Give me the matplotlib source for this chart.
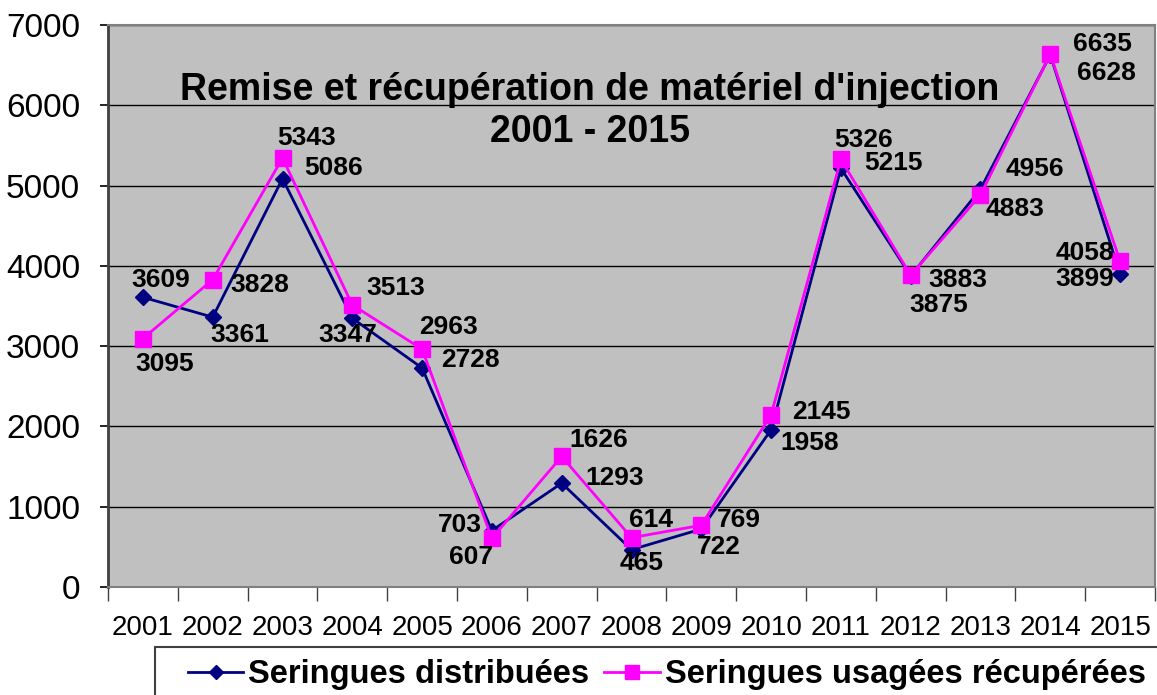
import matplotlib
matplotlib.use('Agg')
import matplotlib.pyplot as plt
import matplotlib.patches as mpatches
from matplotlib.ticker import FixedLocator

plt.rcParams['font.family'] = ['Liberation Sans', 'DejaVu Sans']

# données
annees = ['2001', '2002', '2003', '2004', '2005', '2006', '2007', '2008',
          '2009', '2010', '2011', '2012', '2013', '2014', '2015']
distribuees = [3609, 3361, 5086, 3347, 2728, 703, 1293, 465, 722, 1958,
               5215, 3875, 4956, 6628, 3899]
recuperees = [3095, 3828, 5343, 3513, 2963, 607, 1626, 614, 769, 2145,
              5326, 3883, 4883, 6635, 4058]

# décalages des étiquettes (pixels, centre du texte)
off_dist = [(18, 17), (27, -18), (51, 11), (-5, -17), (48, 8), (-32, 6),
            (53, 5), (10, -13), (18, -18), (39, -13), (53, 5), (28, -29),
            (54, 20), (56, -18), (-35, -5)]
off_rec = [(22, -25), (47, -5), (24, 20), (43, 17), (26, 22), (-21, -19),
           (37, 16), (20, 18), (38, 5), (50, 3), (23, 19), (47, -5),
           (35, -14), (52, 10), (-35, 8)]

fig = plt.figure(figsize=(11.57, 6.95), dpi=100)
ax = fig.add_axes([108 / 1157, 1 - 587 / 695, 1047 / 1157, 562 / 695])
ax.set_facecolor('#C0C0C0')

x = list(range(len(annees)))
l1, = ax.plot(x, distribuees, color='#000080', lw=2, marker='D', ms=8,
              zorder=3, label='Seringues distribuées')
l2, = ax.plot(x, recuperees, color='#FF00FF', lw=2, marker='s', ms=11,
              zorder=4, label='Seringues usagées récupérées')

for xi, v, (dx, dy) in zip(x, distribuees, off_dist):
    ax.annotate(str(v), (xi, v), xytext=(dx, dy), textcoords='offset pixels',
                ha='center', va='center', fontsize=19, fontweight='bold', zorder=6)
for xi, v, (dx, dy) in zip(x, recuperees, off_rec):
    ax.annotate(str(v), (xi, v), xytext=(dx, dy), textcoords='offset pixels',
                ha='center', va='center', fontsize=19, fontweight='bold', zorder=6)

ax.set_xlim(-0.5, len(annees) - 0.5)
ax.set_ylim(0, 7000)
ax.set_yticks(range(0, 7001, 1000))
ax.tick_params(axis='y', labelsize=24, length=6, width=1.2, pad=14)
ax.yaxis.grid(True, color='black', lw=1)
ax.set_axisbelow(True)

ax.xaxis.set_major_locator(FixedLocator([i - 0.5 for i in range(len(annees) + 1)]))
ax.xaxis.set_major_formatter(plt.NullFormatter())
ax.xaxis.set_minor_locator(FixedLocator(x))
ax.set_xticklabels(annees, minor=True)
ax.tick_params(axis='x', which='major', length=10, width=1, color='#404040')
ax.tick_params(axis='x', which='minor', length=0, labelsize=20, pad=20)

for side in ['top', 'right', 'bottom']:
    ax.spines[side].set_color('#808080')
    ax.spines[side].set_linewidth(1.5)
ax.spines['left'].set_color('#404040')
ax.spines['left'].set_linewidth(2)

fig.text(590 / 1157, 1 - 90 / 695, "Remise et récupération de matériel d'injection",
         ha='center', va='center', fontsize=27, fontweight='bold')
fig.text(590 / 1157, 1 - 132 / 695, "2001 - 2015",
         ha='center', va='center', fontsize=27, fontweight='bold')

# cadre de légende (coupé par le bord de l'image comme dans l'original)
fig.patches.append(mpatches.Rectangle(
    (155 / 1157, -0.05), 1.2, 1 - 647 / 695 + 0.05, transform=fig.transFigure,
    facecolor='white', edgecolor='#404040', lw=1.5, zorder=0))

leg = fig.legend(handles=[l1, l2], loc='center left',
                 bbox_to_anchor=(188 / 1157, 1 - 675 / 695), ncol=2,
                 frameon=False, prop={'size': 23.5, 'weight': 'bold'},
                 handlelength=1.7, handletextpad=0.15, columnspacing=0.45,
                 borderpad=0, borderaxespad=0, markerscale=0.9)

fig.savefig('out.png', dpi=100)
